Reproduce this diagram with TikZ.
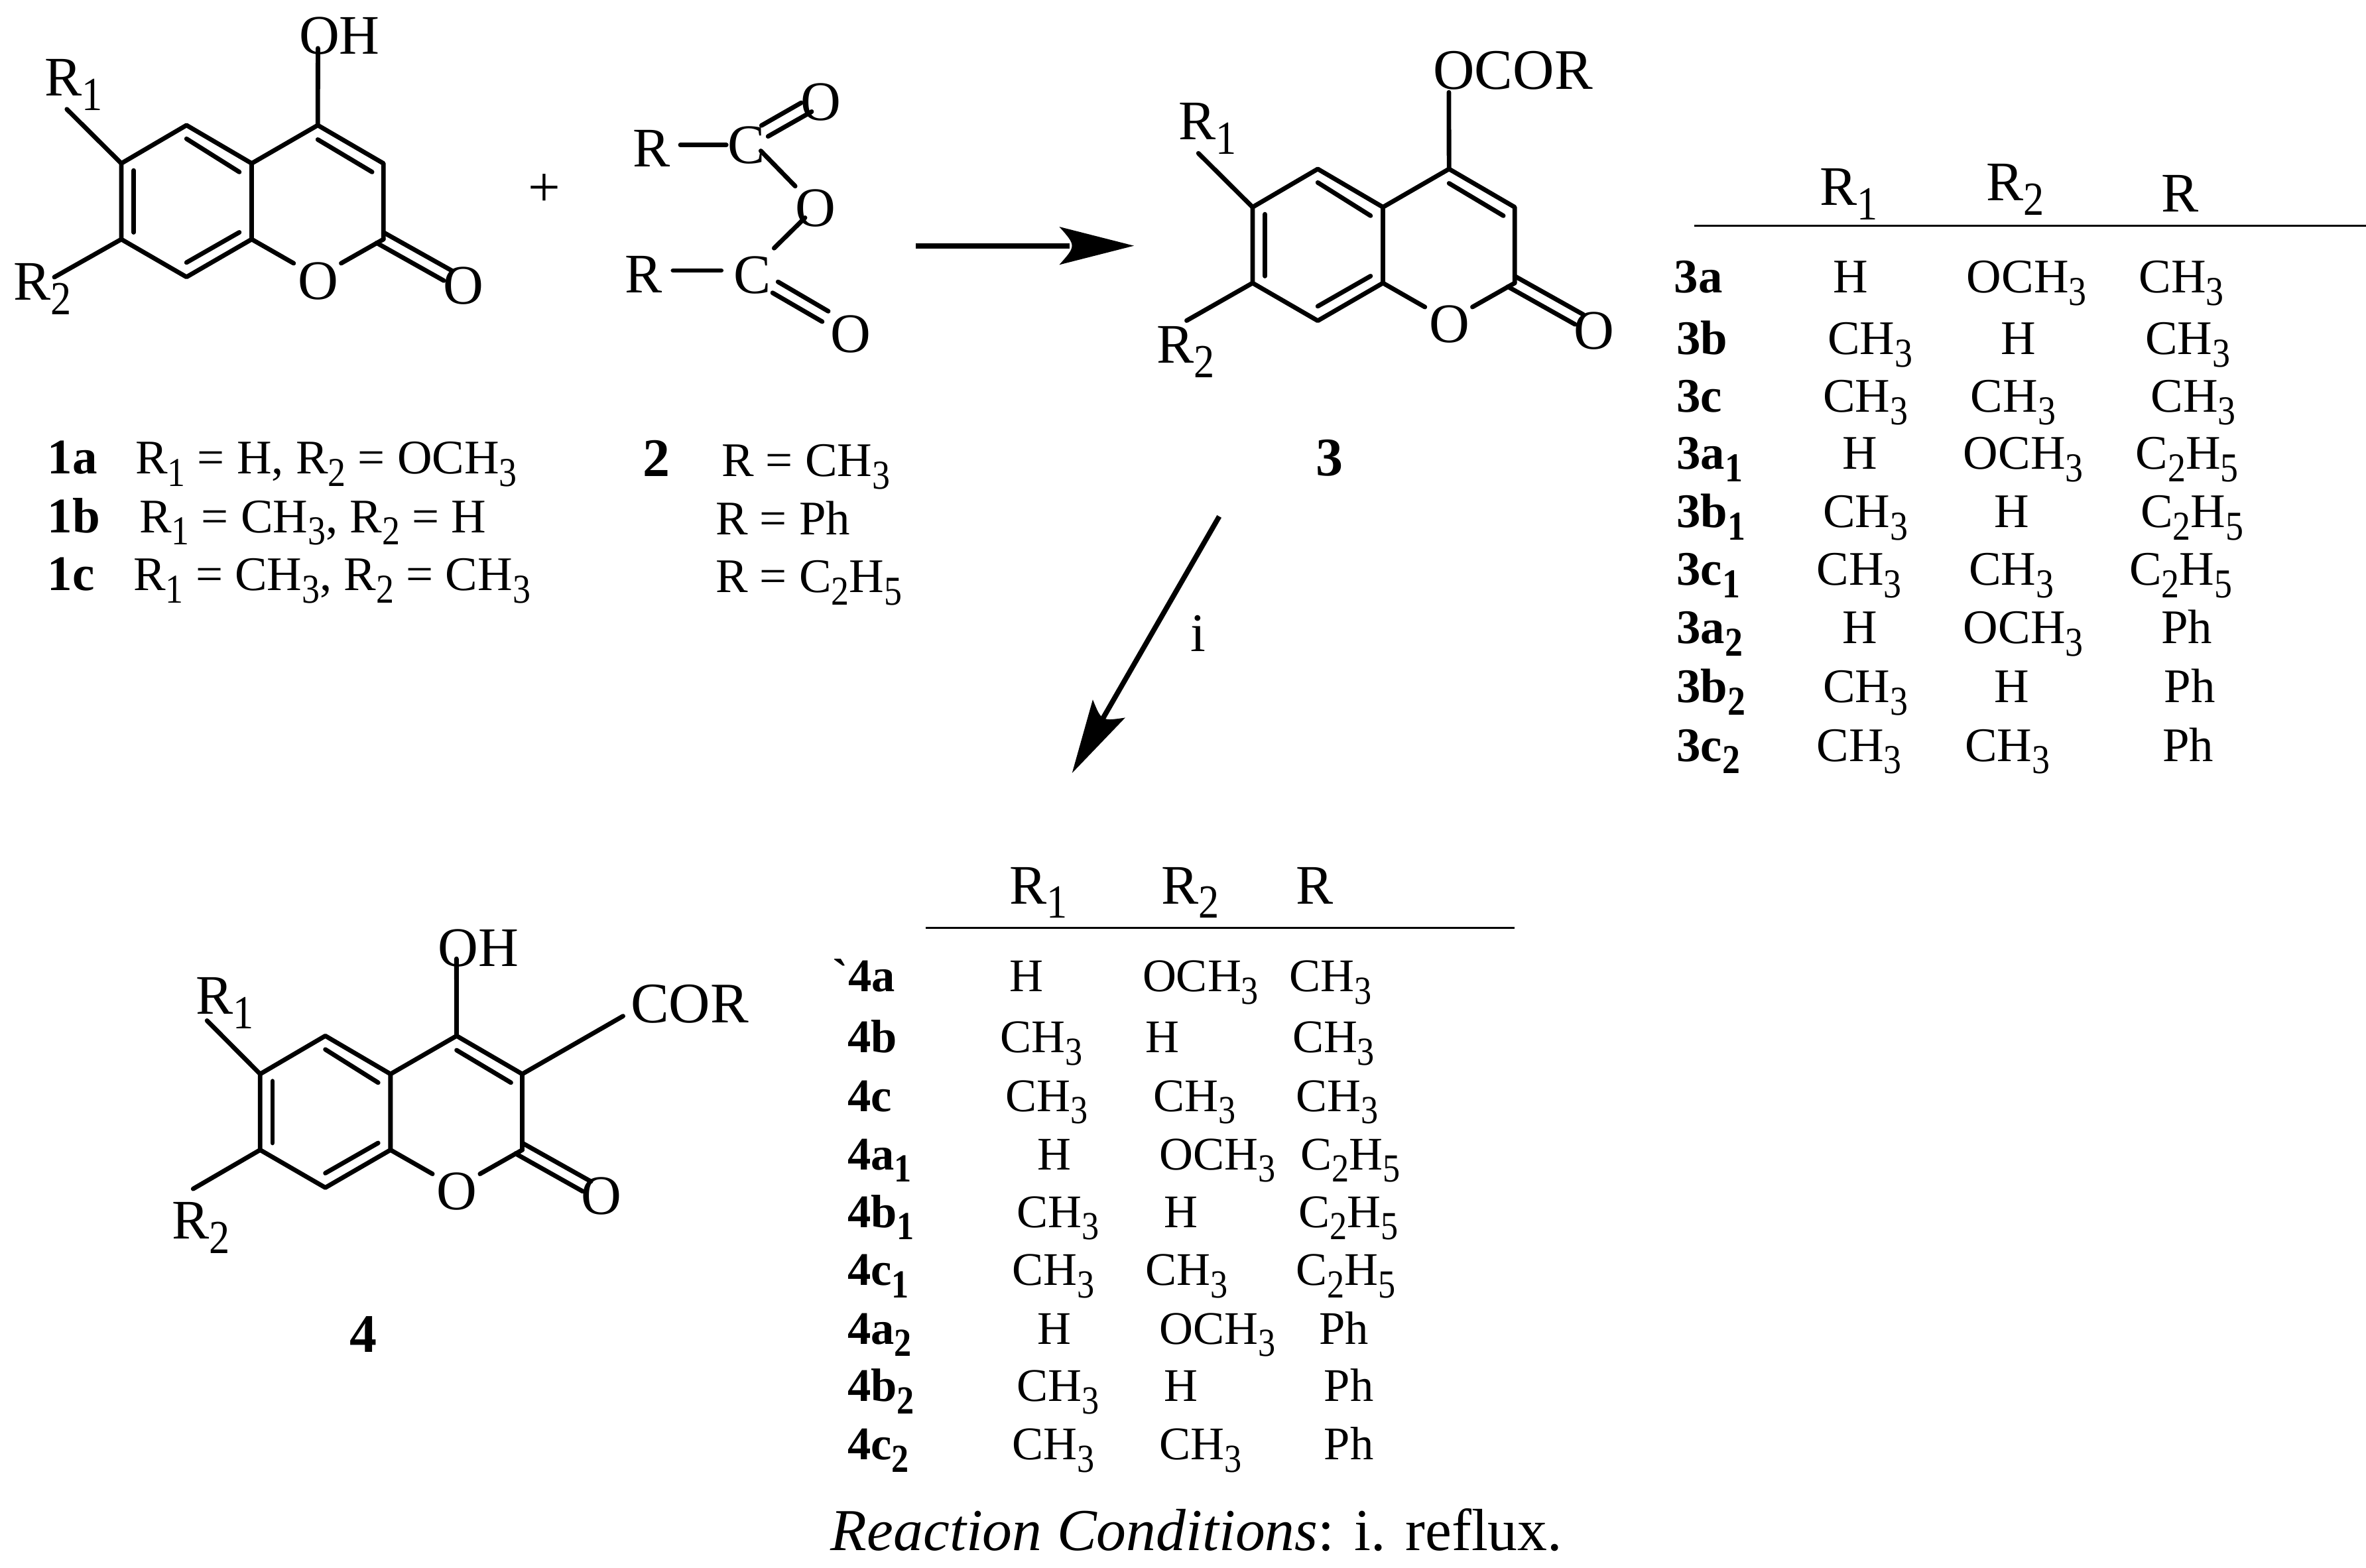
\documentclass[tikz,border=0pt]{standalone}
\usepackage{fontspec}
\setmainfont{Liberation Serif}
\newfontfamily\plainf{Liberation Serif}
\newcommand{\Sb}[1]{\raisebox{-0.26em}{\scalebox{.74}[.85]{#1}}}
\newcommand{\Rone}{R\Sb{1}}
\newcommand{\Rtwo}{R\Sb{2}}
\newcommand{\Rthree}{CH\Sb{3}}
\newcommand{\Och}{OCH\Sb{3}}
\newcommand{\Cfive}{C\Sb{2}H\Sb{5}}
\newcommand{\Lb}[2]{\textbf{#1}\ifx&#2&\else\Sb{\textbf{#2}}\fi}
\newcount\tc
% general text: size, x, y, text
\newcommand{\Tx}[4]{\global\advance\tc by 1 \node[lbl,font=\fontsize{#1}{#1}\selectfont] (t\the\tc) at (#2,#3) {#4};}
% one table row: size, y, labelx, label, x1, t1, x2, t2, t3 (x3 set by \RowT)
\newcommand{\Row}[9]{\Tx{#1}{#3}{#2}{#4}\Tx{#1}{#5}{#2}{#6}\Tx{#1}{#7}{#2}{#8}\Tx{#1}{\RowXtemp}{#2}{#9}}
\newcommand{\RowT}[1]{\def\RowXtemp{#1}}
\tikzset{
  bond/.style={line width=3pt,line cap=round,line join=round},
  lbl/.style={inner sep=0pt,anchor=base west},
  rule/.style={line width=1.4pt},
  shaft/.style={line width=3.4pt},
  x=1pt,y=-1pt
}
\newcommand{\Coum}[3]{%
\begin{scope}[shift={(#2,#3)}]
  \coordinate (#1a) at (0,0);
  \coordinate (#1b) at (-43.2,25.3);
  \coordinate (#1c) at (-43.2,75.6);
  \coordinate (#1d) at (0,100.6);
  \coordinate (#1e) at (43.2,75.6);
  \coordinate (#1f) at (43.2,25.3);
  \coordinate (#1g) at (87,0);
  \coordinate (#1h) at (130.5,25.3);
  \coordinate (#1i) at (130.5,75.6);
  \coordinate (#1ia1) at (0,9); \coordinate (#1ia2) at (35,31);
  \coordinate (#1ib1) at (-35,30); \coordinate (#1ib2) at (-35,71);
  \coordinate (#1ic1) at (0,91); \coordinate (#1ic2) at (35,71);
  \coordinate (#1id1) at (87,9.5); \coordinate (#1id2) at (123,31);
  \coordinate (#1o1) at (71,91.5); \coordinate (#1o2) at (102.5,91.5);
  \coordinate (#1p1) at (130.5,71); \coordinate (#1p2) at (176,96.5);
  \coordinate (#1q1) at (126,78); \coordinate (#1q2) at (170.5,103);
  \draw[bond] (#1a) -- (#1b) -- (#1c) -- (#1d) -- (#1e) -- (#1f) -- cycle;
  \draw[bond] (#1f) -- (#1g) -- (#1h) -- (#1i);
  \draw[bond] (#1e) -- (#1o1);
  \draw[bond] (#1i) -- (#1o2);
  \draw[bond] (#1ia1) -- (#1ia2);
  \draw[bond] (#1ib1) -- (#1ib2);
  \draw[bond] (#1ic1) -- (#1ic2);
  \draw[bond] (#1id1) -- (#1id2);
  \draw[bond] (#1p1) -- (#1p2);
  \draw[bond] (#1q1) -- (#1q2);
\end{scope}}
\begin{document}
\begin{tikzpicture}
\useasboundingbox (0,0) rectangle (1568,1039);
% compound 1
\Coum{A}{123.6}{83}
\coordinate (Aup) at (210.7,32); \coordinate (Ar1) at (44.3,72.4); \coordinate (Ar2) at (36,183.7);
\draw[bond] (Ag) -- (Aup); \draw[bond] (Ab) -- (Ar1); \draw[bond] (Ac) -- (Ar2);
\Tx{37}{198}{36}{OH}
\Tx{37}{29.4}{63.4}{\Rone}
\Tx{37}{8.6}{199}{\Rtwo}
\Tx{37}{197.4}{198.4}{O}
\Tx{37}{293.5}{201.6}{O}
% plus
\Tx{38}{350}{137}{+}
% compound 2
\Tx{37}{419.2}{110.6}{R}
\Tx{37}{482.2}{108.4}{C}
\Tx{37}{530.6}{79.8}{O}
\Tx{37}{526.9}{150}{O}
\Tx{37}{414.1}{194.1}{R}
\Tx{37}{486}{194.5}{C}
\Tx{37}{550.2}{233.4}{O}
\coordinate (b1) at (450.9,96.1); \coordinate (b2) at (481.3,96.1);
\coordinate (b3) at (504.6,83.2); \coordinate (b4) at (531,68.1);
\coordinate (b5) at (509,90.4); \coordinate (b6) at (537.9,74);
\coordinate (b7) at (504.2,100); \coordinate (b8) at (527,123.4);
\coordinate (b9) at (533.5,144.3); \coordinate (b10) at (513,164.5);
\coordinate (b11) at (446,179.3); \coordinate (b12) at (478,179.3);
\coordinate (b13) at (515.6,186.8); \coordinate (b14) at (548.9,206.3);
\coordinate (b15) at (512,194.1); \coordinate (b16) at (544.9,213.2);
\draw[bond] (b1)--(b2); \draw[bond] (b3)--(b4); \draw[bond] (b5)--(b6);
\draw[bond] (b7)--(b8); \draw[bond] (b9)--(b10); \draw[bond] (b11)--(b12);
\draw[bond] (b13)--(b14); \draw[bond] (b15)--(b16);
% legends
\Tx{33}{31.4}{314.2}{\textbf{1a}}
\Tx{32}{89.5}{314.2}{\Rone{} = H, \Rtwo{} = \Och}
\Tx{33}{31.4}{352.9}{\textbf{1b}}
\Tx{32}{92.2}{352.9}{\Rone{} = \Rthree, \Rtwo{} = H}
\Tx{33}{31.4}{391.5}{\textbf{1c}}
\Tx{32}{88.3}{391.5}{\Rone{} = \Rthree, \Rtwo{} = \Rthree}
\Tx{36}{425.8}{315.6}{\textbf{2}}
\Tx{32}{478}{315.6}{R = \Rthree}
\Tx{32}{474}{354.2}{R = Ph}
\Tx{32}{474}{392.8}{R = \Cfive}
% arrow 1
\coordinate (r1) at (606.9,162.9); \coordinate (r1n) at (709,162.9);
\coordinate (r1t) at (751.5,162.9); \coordinate (r1a) at (702,150.3);
\coordinate (r1b) at (702,175.5); \coordinate (r1c) at (713.2,162.9);
\draw[shaft] (r1) -- (r1n);
\fill (r1t) -- (r1a) .. controls (r1c) .. (r1b) -- cycle;
% arrow 2
\coordinate (r2) at (808,342.3); \coordinate (r2n) at (731,476);
\coordinate (r2t) at (710.5,512.4); \coordinate (r2a) at (724.2,463.7);
\coordinate (r2b) at (745.7,475.7); \coordinate (r2c) at (730,478);
\draw[shaft] (r2) -- (r2n);
\fill (r2t) -- (r2a) .. controls (r2c) .. (r2b) -- cycle;
\Tx{36}{789}{431.7}{i}
% compound 3
\Coum{B}{873.3}{112}
\coordinate (Bup) at (960.2,61.2); \coordinate (Br1) at (794.2,101.6); \coordinate (Br2) at (786.4,212.5);
\draw[bond] (Bg) -- (Bup); \draw[bond] (Bb) -- (Br1); \draw[bond] (Bc) -- (Br2);
\Tx{38}{949.7}{58.9}{OCOR}
\Tx{37}{781}{92.5}{\Rone}
\Tx{37}{766.5}{240.5}{\Rtwo}
\Tx{37}{947}{227}{O}
\Tx{37}{1042.9}{231.4}{O}
\Tx{36}{871.7}{315.4}{\textbf{3}}
% table 3
\Tx{37}{1205.8}{136}{\Rone}
\Tx{37}{1316.3}{132.8}{\Rtwo}
\Tx{37}{1432}{140.6}{R}
\coordinate (ru1) at (1123,149.7); \coordinate (ru2) at (1568,149.7);
\draw[rule] (ru1)--(ru2);
\RowT{1417.3}\Row{32}{194}{1109.4}{\Lb{3a}{}}{1214.7}{H}{1303.2}{\Och}{\Rthree}
\RowT{1421.5}\Row{32}{234.7}{1111}{\Lb{3b}{}}{1211}{\Rthree}{1325.7}{H}{\Rthree}
\RowT{1425.2}\Row{32}{273}{1111}{\Lb{3c}{}}{1207.9}{\Rthree}{1305.8}{\Rthree}{\Rthree}
\RowT{1415.2}\Row{32}{311}{1111}{\Lb{3a}{1}}{1221}{H}{1301}{\Och}{\Cfive}
\RowT{1418.4}\Row{32}{349.8}{1111}{\Lb{3b}{1}}{1207.9}{\Rthree}{1321.5}{H}{\Cfive}
\RowT{1411}\Row{32}{387.8}{1111}{\Lb{3c}{1}}{1203.7}{\Rthree}{1304.7}{\Rthree}{\Cfive}
\RowT{1432}\Row{32}{426.4}{1111}{\Lb{3a}{2}}{1221}{H}{1301}{\Och}{Ph}
\RowT{1434}\Row{32}{465.8}{1111}{\Lb{3b}{2}}{1207.9}{\Rthree}{1321.5}{H}{Ph}
\RowT{1433}\Row{32}{504.5}{1111}{\Lb{3c}{2}}{1203.7}{\Rthree}{1302}{\Rthree}{Ph}
% compound 4
\Coum{C}{215.6}{686.6}
\coordinate (Cup) at (302.5,635.5); \coordinate (Cr1) at (137.2,676.5); \coordinate (Cr2) at (128,788);
\coordinate (Ccor) at (412.9,673.5);
\draw[bond] (Cg) -- (Cup); \draw[bond] (Cb) -- (Cr1); \draw[bond] (Cc) -- (Cr2);
\draw[bond] (Ch) -- (Ccor);
\Tx{37}{290}{640.6}{OH}
\Tx{38}{417.8}{678}{COR}
\Tx{37}{129.8}{672}{\Rone}
\Tx{37}{113.8}{821}{\Rtwo}
\Tx{37}{289}{802}{O}
\Tx{37}{385}{805}{O}
\Tx{36}{231.8}{896.4}{\textbf{4}}
% table 4
\Tx{37}{668.8}{599}{\Rone}
\Tx{37}{769.4}{599}{\Rtwo}
\Tx{37}{858.8}{599}{R}
\coordinate (rv1) at (613.3,615); \coordinate (rv2) at (1003.7,615);
\draw[rule] (rv1)--(rv2);
\RowT{854.5}\Row{31}{657.4}{551.7}{{\plainf\bfseries\char96}\Lb{4a}{}}{668.8}{H}{757}{\Och}{\Rthree}
\RowT{856.3}\Row{31}{697.8}{561.5}{\Lb{4b}{}}{662.7}{\Rthree}{758.9}{H}{\Rthree}
\RowT{858.8}\Row{31}{736.7}{561.5}{\Lb{4c}{}}{666.4}{\Rthree}{764.4}{\Rthree}{\Rthree}
\RowT{861.9}\Row{31}{775.4}{561.5}{\Lb{4a}{1}}{687.3}{H}{768}{\Och}{\Cfive}
\RowT{860.6}\Row{31}{813.7}{561.5}{\Lb{4b}{1}}{673.8}{\Rthree}{771.2}{H}{\Cfive}
\RowT{858.8}\Row{31}{852}{561.5}{\Lb{4c}{1}}{670.7}{\Rthree}{758.9}{\Rthree}{\Cfive}
\RowT{874.2}\Row{31}{891}{561.5}{\Lb{4a}{2}}{687.3}{H}{768}{\Och}{Ph}
\RowT{877.3}\Row{31}{929}{561.5}{\Lb{4b}{2}}{673.8}{\Rthree}{771.2}{H}{Ph}
\RowT{877.3}\Row{31}{967.6}{561.5}{\Lb{4c}{2}}{670.7}{\Rthree}{768}{\Rthree}{Ph}
\Tx{39.4}{550.4}{1027.8}{\textit{Reaction Conditions}: i. reflux.}
\end{tikzpicture}
\end{document}
